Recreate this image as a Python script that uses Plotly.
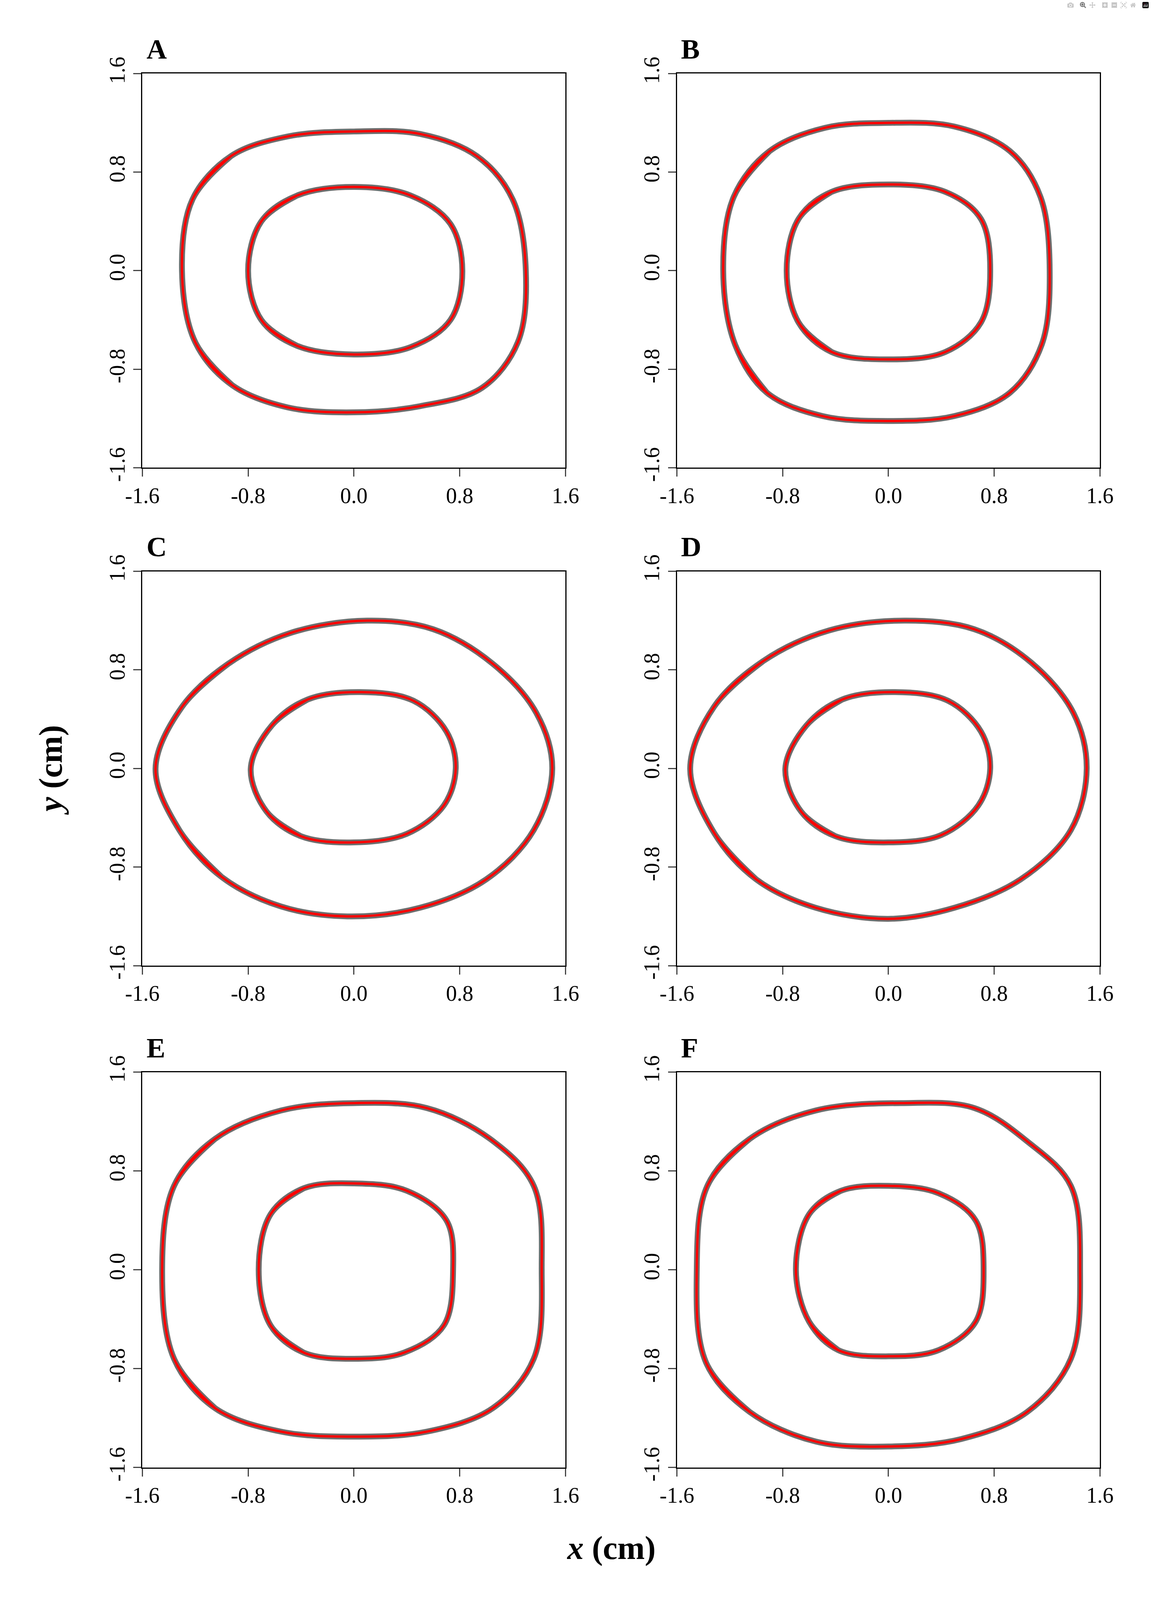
import plotly.graph_objects as go

panels = ["A", "B", "C", "D", "E", "F"]

# outer / inner contour points (x, y), per panel
outer_x = {
 "A": [-1.30,-1.22,-0.93,-0.50,0.00,0.50,0.93,1.20,1.30,1.24,0.97,0.50,0.00,-0.50,-0.92,-1.20],
 "B": [-1.25,-1.17,-0.90,-0.48,0.00,0.50,0.92,1.15,1.22,1.16,0.92,0.50,0.00,-0.50,-0.92,-1.16],
 "C": [-1.50,-1.30,-0.95,-0.48,0.10,0.60,1.05,1.38,1.50,1.36,1.00,0.50,-0.05,-0.55,-1.00,-1.32],
 "D": [-1.50,-1.32,-0.95,-0.45,0.12,0.65,1.08,1.40,1.50,1.38,1.00,0.50,0.00,-0.55,-1.00,-1.32],
 "E": [-1.45,-1.36,-1.05,-0.55,0.00,0.55,1.03,1.36,1.42,1.36,1.05,0.55,0.00,-0.55,-1.05,-1.36],
 "F": [-1.45,-1.37,-1.05,-0.55,0.10,0.65,1.05,1.38,1.45,1.38,1.05,0.55,0.00,-0.55,-1.05,-1.38],
}
outer_y = {
 "A": [0.00,0.58,0.93,1.09,1.13,1.11,0.93,0.58,0.00,-0.58,-0.95,-1.10,-1.15,-1.11,-0.93,-0.58],
 "B": [0.00,0.60,0.97,1.16,1.20,1.17,0.97,0.60,0.00,-0.60,-0.99,-1.18,-1.22,-1.18,-0.99,-0.60],
 "C": [0.00,0.50,0.85,1.10,1.20,1.13,0.85,0.45,0.00,-0.50,-0.90,-1.13,-1.20,-1.12,-0.88,-0.50],
 "D": [0.00,0.50,0.87,1.12,1.20,1.13,0.86,0.45,0.00,-0.50,-0.90,-1.13,-1.22,-1.13,-0.90,-0.52],
 "E": [0.00,0.68,1.06,1.29,1.35,1.31,1.06,0.68,0.00,-0.72,-1.12,-1.31,-1.35,-1.31,-1.12,-0.72],
 "F": [0.00,0.68,1.06,1.29,1.35,1.31,1.04,0.68,0.00,-0.72,-1.15,-1.37,-1.43,-1.39,-1.15,-0.75],
}
inner_x = {
 "A": [-0.80,-0.70,-0.43,0.00,0.43,0.73,0.82,0.73,0.43,0.00,-0.43,-0.70],
 "B": [-0.77,-0.68,-0.43,0.00,0.43,0.70,0.77,0.70,0.43,0.00,-0.43,-0.68],
 "C": [-0.78,-0.62,-0.35,0.05,0.45,0.70,0.77,0.68,0.40,0.00,-0.40,-0.66],
 "D": [-0.78,-0.62,-0.35,0.05,0.45,0.70,0.77,0.68,0.40,0.00,-0.40,-0.66],
 "E": [-0.72,-0.63,-0.38,0.00,0.40,0.70,0.75,0.68,0.38,0.00,-0.38,-0.63],
 "F": [-0.70,-0.60,-0.36,0.00,0.38,0.66,0.72,0.66,0.38,0.00,-0.38,-0.60],
}
inner_y = {
 "A": [0.00,0.40,0.61,0.68,0.61,0.38,0.00,-0.40,-0.62,-0.68,-0.61,-0.40],
 "B": [0.00,0.42,0.64,0.70,0.64,0.42,0.00,-0.42,-0.66,-0.72,-0.66,-0.42],
 "C": [0.00,0.35,0.56,0.62,0.55,0.30,0.00,-0.30,-0.53,-0.60,-0.55,-0.35],
 "D": [0.00,0.35,0.56,0.62,0.55,0.30,0.00,-0.30,-0.54,-0.60,-0.55,-0.35],
 "E": [0.00,0.45,0.66,0.70,0.64,0.40,0.00,-0.45,-0.67,-0.72,-0.67,-0.45],
 "F": [0.00,0.45,0.64,0.68,0.62,0.40,0.00,-0.42,-0.65,-0.70,-0.65,-0.42],
}
tick_vals = [-1.6, -0.8, 0.0, 0.8, 1.6]
tick_text = ["-1.6", "-0.8", "0.0", "0.8", "1.6"]

xdom = [[0.1117, 0.4895], [0.589, 0.9666]]
ydom = [[0.7126, 0.9638], [0.3953, 0.6466], [0.0755, 0.3274]]
font = "Liberation Serif"

fig = go.Figure()
layout = dict(autosize=True, margin=dict(l=0, r=0, t=0, b=0),
              plot_bgcolor="white", paper_bgcolor="white", showlegend=False,
              font=dict(family=font, size=56, color="black"))
annotations = []
for i, p in enumerate(panels):
    r, c = divmod(i, 2)
    n = "" if i == 0 else str(i + 1)
    xa, ya = "x" + n, "y" + n
    for xs, ys in [(outer_x[p], outer_y[p]), (inner_x[p], inner_y[p])]:
        cx = xs[-2:] + xs + xs[:3]
        cy = ys[-2:] + ys + ys[:3]
        fig.add_trace(go.Scatter(x=cx, y=cy, mode="lines", xaxis=xa, yaxis=ya,
                                 line=dict(color="#6e6e6e", width=15, shape="spline", smoothing=1.0)))
        fig.add_trace(go.Scatter(x=cx, y=cy, mode="lines", xaxis=xa, yaxis=ya,
                                 line=dict(color="#ff0000", width=6, shape="spline", smoothing=1.0)))
    ax = dict(range=[-1.6, 1.6], tickvals=tick_vals, ticktext=tick_text, showgrid=False,
              zeroline=False, showline=True, linecolor="black", linewidth=3, mirror=True,
              ticks="outside", ticklen=20, tickwidth=3, tickfont=dict(size=56, family=font))
    layout["xaxis" + n] = dict(ax, domain=xdom[c], anchor="y" + n)
    layout["yaxis" + n] = dict(ax, domain=ydom[r], anchor="x" + n, tickangle=-90)
    annotations.append(dict(text="<b>%s</b>" % p, x=xdom[c][0] + 0.003, y=ydom[r][1] + 0.0155,
                            xref="paper", yref="paper", showarrow=False, xanchor="left",
                            yanchor="middle", font=dict(size=72, family=font)))
annotations.append(dict(text="<b><i>x</i> (cm)</b>", x=0.53, y=0.012, xref="paper", yref="paper",
                        showarrow=False, font=dict(size=84, family=font)))
annotations.append(dict(text="<b><i>y</i> (cm)</b>", x=0.013, y=0.52, xref="paper", yref="paper",
                        showarrow=False, textangle=-90, font=dict(size=84, family=font)))
layout["annotations"] = annotations
fig.update_layout(**layout)
fig.write_html("out.html", default_width="100vw", default_height="100vh",
               config={"responsive": True},
               post_script="document.body.style.margin='0';document.body.style.overflow='hidden';")
